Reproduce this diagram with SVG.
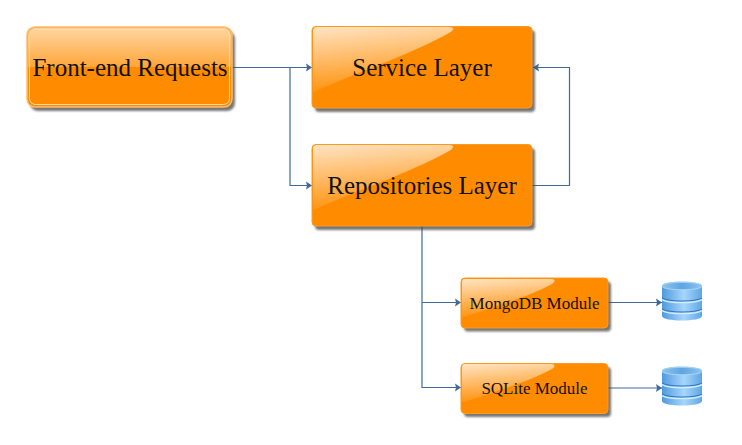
<svg xmlns="http://www.w3.org/2000/svg" xmlns:xlink="http://www.w3.org/1999/xlink" width="742" height="445" viewBox="0 0 742 445">
<style>
text{font-family:"Liberation Serif","Times New Roman",serif;fill:#111;text-anchor:middle}
.big{font-size:25px}
.small{font-size:17px}
.box{fill:#ff8c00;stroke:#fb9a20;stroke-width:1}
.gloss{fill:url(#gloss)}
.shadow{fill:#4a4a4a;opacity:.75;filter:url(#blur)}
.conn{fill:none;stroke:#3e6a9a;stroke-width:1.200;marker-end:url(#arrow)}
</style>
<defs>
<marker id="arrow" markerUnits="userSpaceOnUse" markerWidth="7" markerHeight="10" refX="6" refY="5" orient="auto"><path d="M0 1L6 5L0 9L1 5Z" fill="#3e6a9a"/></marker>
<filter id="blur" x="-10%" y="-20%" width="120%" height="140%"><feGaussianBlur stdDeviation="1.300"/></filter>
<linearGradient id="gloss" x1=".1" y1="0" x2=".3" y2="1"><stop offset="0" stop-color="#fff" stop-opacity=".75"/><stop offset="1" stop-color="#fff" stop-opacity=".04"/></linearGradient>
<linearGradient id="top" x1="0" y1="0" x2="0" y2="1"><stop offset="0" stop-color="#ffd6a0"/><stop offset="1" stop-color="#ffa63a"/></linearGradient>
<linearGradient id="dbside" x1="0" y1="0" x2="1" y2="0"><stop offset="0" stop-color="#4f9ade"/><stop offset=".55" stop-color="#a6d6fb"/><stop offset="1" stop-color="#5ea6e4"/></linearGradient>
<linearGradient id="dbtop" x1="0" y1="0" x2="1" y2="0"><stop offset="0" stop-color="#8cc4f0"/><stop offset=".5" stop-color="#5fa5e2"/><stop offset="1" stop-color="#8cc4f0"/></linearGradient>
<g id="db">
<path d="M0 5C0 -1 40 -1 40 5V35C40 41 0 41 0 35Z" fill="url(#dbside)"/>
<path d="M0 5C0 0 40 0 40 5C40 10 0 10 0 5Z" fill="url(#dbtop)" stroke="#b5dcf9" stroke-width=".8"/>
<path d="M0 17C6 21 34 21 40 17" fill="none" stroke="#2f78bd" stroke-width="1"/>
<path d="M0 18.600C6 22.600 34 22.600 40 18.600" fill="none" stroke="#d5ecfd" stroke-width="1.400"/>
<path d="M0 28C6 32 34 32 40 28" fill="none" stroke="#2f78bd" stroke-width="1"/>
<path d="M0 29.600C6 33.600 34 33.600 40 29.600" fill="none" stroke="#d5ecfd" stroke-width="1.400"/>
</g>
</defs>

<g id="connectors">
<path class="conn" d="M232 67.500H312"/>
<path class="conn" d="M290 67.500V185.500H312"/>
<path class="conn" d="M532 185.500H569.500V67.500H533"/>
<path class="conn" d="M422 226V387.500H461"/>
<path class="conn" d="M422 302.500H461"/>
<path class="conn" d="M608 302.500H662"/>
<path class="conn" d="M608 388H662"/>
</g>

<g id="frontend">
<rect class="shadow" x="30" y="31" width="205" height="80" rx="8"/>
<rect x="27" y="27" width="205" height="80" rx="8" fill="#ff8c00" stroke="#ffbd70" stroke-width="1.500"/>
<path d="M28 67V35a7 7 0 0 1 7-7H224a7 7 0 0 1 7 7V67Z" fill="url(#top)"/>
<rect x="29.500" y="29.500" width="200" height="75" rx="6" fill="none" stroke="#ffd9a8" stroke-width="1"/>
<text class="big" x="130" y="76">Front-end Requests</text>
</g>

<g id="service">
<rect class="shadow" x="315" y="30" width="220" height="82" rx="4"/>
<rect class="box" x="312" y="26.500" width="220" height="81.500" rx="4"/>
<path class="gloss" d="M313 92V31a4 4 0 0 1 4-4H449C456 27 453 31 449 33C420 50 360 72 322 88Q316 91 313 92Z"/>
<text class="big" x="422" y="76">Service Layer</text>
</g>

<g id="repositories">
<rect class="shadow" x="315" y="148" width="220" height="82" rx="4"/>
<rect class="box" x="312" y="144.500" width="220" height="81.500" rx="4"/>
<path class="gloss" d="M313 210V149a4 4 0 0 1 4-4H449C456 145 453 149 449 151C420 168 360 190 322 206Q316 209 313 210Z"/>
<text class="big" x="422" y="194">Repositories Layer</text>
</g>

<g id="mongodb">
<rect class="shadow" x="464" y="281.500" width="147" height="50" rx="4"/>
<rect class="box" x="461" y="278" width="147" height="50" rx="4"/>
<path class="gloss" d="M462 317V282a3 3 0 0 1 3-3H551C556 279 555 282 552 284C530 296 500 305 470 315Q465 317 462 317Z"/>
<text class="small" x="534.500" y="309">MongoDB Module</text>
</g>

<g id="sqlite">
<rect class="shadow" x="464" y="367" width="147" height="50" rx="4"/>
<rect class="box" x="461" y="363.500" width="147" height="50" rx="4"/>
<path class="gloss" d="M462 402V367a3 3 0 0 1 3-3H551C556 364 555 367 552 369C530 381 500 390 470 400Q465 402 462 402Z"/>
<text class="small" x="534.500" y="394">SQLite Module</text>
</g>

<g id="db1"><use xlink:href="#db" href="#db" x="662" y="281"/></g>
<g id="db2"><use xlink:href="#db" href="#db" x="662" y="366"/></g>
</svg>
